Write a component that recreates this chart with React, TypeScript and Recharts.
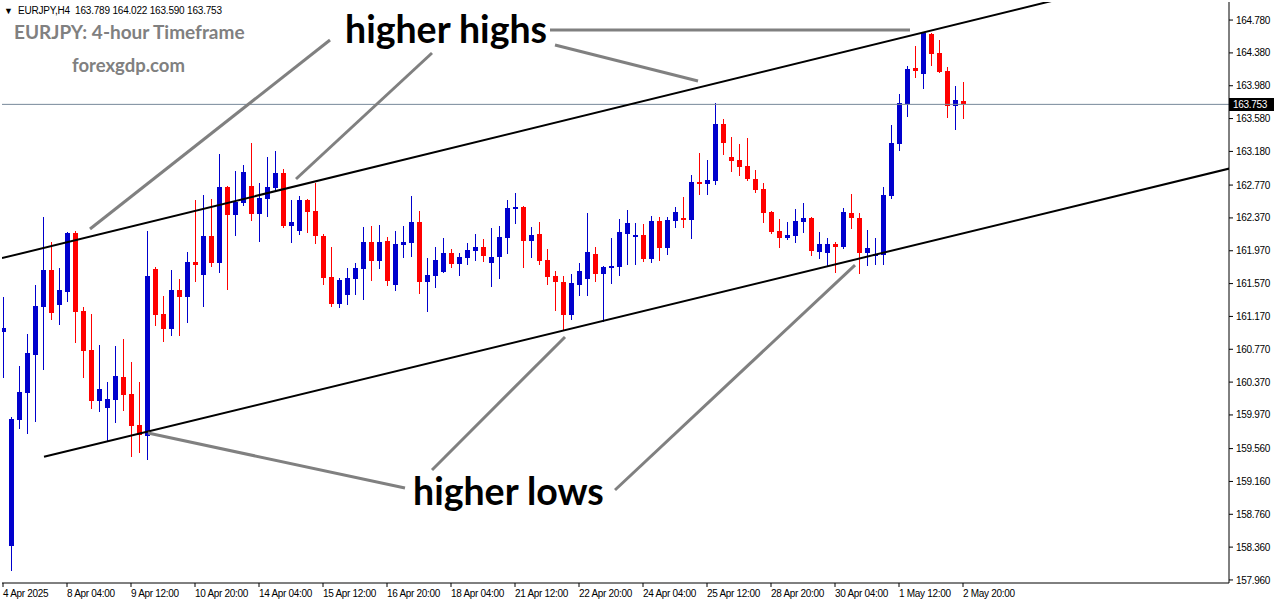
import { ComposedChart, Bar, XAxis, YAxis, ReferenceLine } from 'recharts'

// EURJPY H4 candles, 4 Apr 2025 -> 2 May 2025 20:00 (one entry per 4h bar)
const OPENS = [
  160.98, 158.37, 159.91, 160.24, 160.70, 161.28, 161.74, 161.31, 161.47, 162.19,
  161.24, 160.76, 160.14, 160.05, 160.15, 160.43, 160.23, 159.85, 159.71, 161.75,
  161.20, 161.02, 161.49, 161.41, 161.83, 161.67, 162.15, 161.82, 162.75, 162.41,
  162.55, 162.76, 162.42, 162.60, 162.73, 162.92, 162.27, 162.21, 162.59, 162.45,
  162.15, 161.65, 161.32, 161.43, 161.63, 161.75, 162.08, 161.85, 162.09, 161.55,
  162.04, 162.06, 162.32, 161.59, 161.66, 161.71, 161.94, 161.81, 161.88, 161.97,
  162.02, 161.82, 161.89, 162.13, 162.48, 162.50, 162.09, 162.17, 161.86, 161.66,
  161.59, 161.19, 161.55, 161.63, 161.93, 161.69, 161.76, 161.77, 162.17, 162.14,
  162.16, 161.87, 162.33, 162.00, 162.33, 162.37, 162.34, 162.81, 162.78, 162.82,
  163.51, 163.11, 163.08, 163.00, 162.84, 162.72, 162.44, 162.21, 162.13, 162.15,
  162.32, 162.37, 161.95, 161.94, 162.05, 162.02, 162.43, 162.37, 161.94, 161.91,
  161.92, 162.64, 163.27, 163.76, 164.20, 164.12, 164.61, 164.38, 164.16, 163.73,
  163.789,
]
const HIGHS = [
  161.41, 159.95, 160.57, 160.96, 161.55, 162.38, 162.08, 161.76, 162.20, 162.21,
  161.28, 161.20, 160.82, 160.37, 160.81, 160.90, 160.61, 160.37, 162.21, 161.77,
  161.42, 161.74, 161.63, 161.95, 162.59, 162.65, 162.60, 163.15, 162.76, 162.94,
  163.01, 163.28, 162.80, 163.11, 163.18, 162.97, 162.59, 162.64, 162.60, 162.80,
  162.17, 162.02, 161.64, 161.76, 161.82, 162.26, 162.27, 162.28, 162.14, 162.21,
  162.27, 162.64, 162.45, 161.88, 162.02, 162.13, 161.99, 161.94, 162.06, 162.17,
  162.11, 162.25, 162.27, 162.59, 162.67, 162.51, 162.26, 162.32, 161.99, 161.72,
  161.66, 161.69, 161.82, 162.43, 162.02, 161.78, 162.13, 162.36, 162.47, 162.31,
  162.30, 162.39, 162.38, 162.38, 162.50, 162.62, 162.89, 163.16, 163.08, 163.77,
  163.57, 163.36, 163.27, 163.34, 162.95, 162.80, 162.45, 162.36, 162.32, 162.48,
  162.55, 162.38, 162.20, 162.13, 162.08, 162.49, 162.66, 162.43, 162.22, 162.13,
  162.75, 163.50, 163.88, 164.22, 164.46, 164.63, 164.62, 164.54, 164.21, 163.98,
  164.022,
]
const LOWS = [
  160.43, 158.08, 159.81, 159.75, 159.90, 160.53, 161.14, 161.08, 161.36, 160.86,
  160.43, 160.05, 160.02, 159.65, 159.88, 160.03, 159.47, 159.52, 159.43, 161.07,
  160.87, 160.94, 160.94, 161.10, 161.60, 161.30, 161.78, 161.71, 161.50, 162.16,
  162.53, 162.34, 162.09, 162.39, 162.71, 162.26, 162.08, 162.17, 162.20, 162.06,
  161.56, 161.30, 161.28, 161.32, 161.44, 161.38, 161.61, 161.76, 161.55, 161.49,
  161.89, 161.91, 161.46, 161.24, 161.53, 161.71, 161.77, 161.67, 161.81, 161.86,
  161.85, 161.54, 161.64, 161.94, 162.31, 161.77, 161.89, 161.81, 161.56, 161.25,
  161.00, 161.14, 161.43, 161.43, 161.60, 161.11, 161.58, 161.67, 161.81, 161.81,
  161.85, 161.83, 161.86, 161.93, 162.26, 162.26, 162.13, 162.66, 162.66, 162.78,
  163.15, 162.94, 162.89, 162.83, 162.69, 162.32, 162.19, 162.02, 162.11, 162.08,
  162.20, 161.92, 161.88, 161.80, 161.71, 162.00, 162.25, 161.70, 161.80, 161.81,
  161.81, 162.61, 163.20, 163.61, 164.09, 163.95, 164.23, 164.15, 163.60, 163.45,
  163.590,
]
const CLOSES = [
  161.03, 159.92, 160.25, 160.72, 161.30, 161.74, 161.21, 161.49, 162.19, 161.22,
  160.75, 160.14, 160.29, 160.16, 160.44, 160.21, 159.84, 159.73, 161.66, 161.19,
  161.02, 161.49, 161.41, 161.83, 161.80, 162.15, 161.82, 162.75, 162.41, 162.56,
  162.93, 162.42, 162.61, 162.75, 162.92, 162.27, 162.32, 162.59, 162.44, 162.15,
  161.64, 161.32, 161.61, 161.64, 161.76, 162.08, 161.85, 162.08, 161.60, 162.05,
  162.08, 162.32, 161.59, 161.67, 161.86, 161.94, 161.81, 161.89, 161.98, 162.02,
  161.91, 161.89, 162.14, 162.49, 162.50, 162.09, 162.16, 161.85, 161.65, 161.59,
  161.19, 161.58, 161.72, 161.95, 161.69, 161.77, 161.78, 162.20, 162.31, 162.16,
  161.87, 162.33, 162.00, 162.34, 162.44, 162.34, 162.81, 162.78, 162.83, 163.51,
  163.28, 163.06, 162.99, 162.84, 162.71, 162.43, 162.20, 162.13, 162.16, 162.33,
  162.37, 161.97, 162.05, 162.05, 162.02, 162.44, 162.37, 161.94, 162.00, 161.93,
  162.65, 163.28, 163.77, 164.18, 164.16, 164.62, 164.37, 164.15, 163.73, 163.81,
  163.753,
]

const TIME_TICKS = [0, 8, 16, 24, 32, 40, 48, 56, 64, 72, 80, 88, 96, 104, 112, 120]
const TIME_LABELS = [
  '4 Apr 2025', '8 Apr 04:00', '9 Apr 12:00', '10 Apr 20:00', '14 Apr 04:00', '15 Apr 12:00',
  '16 Apr 20:00', '18 Apr 04:00', '21 Apr 12:00', '22 Apr 20:00', '24 Apr 04:00', '25 Apr 12:00',
  '28 Apr 20:00', '30 Apr 04:00', '1 May 12:00', '2 May 20:00',
]
const PRICE_TICKS = [
  164.78, 164.38, 163.98, 163.58, 163.18, 162.77, 162.37, 161.97, 161.57,
  161.17, 160.77, 160.37, 159.97, 159.56, 159.16, 158.76, 158.36, 157.96,
]

// channel trendlines (bar index, price)
const UPPER_CHANNEL = [{ x: -0.125, y: 161.88 }, { x: 135, y: 165.106 }]
const LOWER_CHANNEL = [{ x: 5.125, y: 159.46 }, { x: 155, y: 163.012 }]

// grey pointer lines from the labels to the swing points
const HIGH_POINTERS = [
  [{ x: 10.875, y: 162.235 }, { x: 40.875, y: 164.537 }],
  [{ x: 36.625, y: 162.844 }, { x: 53.625, y: 164.379 }],
  [{ x: 68.375, y: 164.659 }, { x: 113.375, y: 164.659 }],
  [{ x: 69, y: 164.476 }, { x: 86.875, y: 164.037 }],
]
const LOW_POINTERS = [
  [{ x: 18.125, y: 159.75 }, { x: 50.25, y: 159.08 }],
  [{ x: 53.625, y: 159.3 }, { x: 70.25, y: 160.92 }],
  [{ x: 76.5, y: 159.056 }, { x: 106.5, y: 161.796 }],
]

const BLUE = '#0000cd'
const RED = '#ff0000'
const AXIS_FONT = '"Liberation Sans", Arial, sans-serif'

const rows = OPENS.map((o, i) => ({ i, o, h: HIGHS[i], l: LOWS[i], c: CLOSES[i] }))
const last = rows[rows.length - 1]

function Candle(props: any) {
  const { x, y, width, height, payload } = props
  if (x == null || y == null || !payload) return null
  const top = Math.min(y, y + height)
  const bottom = Math.max(y, y + height)
  const span = payload.h - payload.l
  const yOf = (v: number) => (span === 0 ? top : top + ((payload.h - v) / span) * (bottom - top))
  const cx = Math.round(x + width / 2)
  const color = payload.c >= payload.o ? BLUE : RED
  const bTop = Math.round(yOf(Math.max(payload.o, payload.c)))
  const bBot = Math.round(yOf(Math.min(payload.o, payload.c)))
  return (
    <g shapeRendering="crispEdges">
      <line x1={cx + 0.5} x2={cx + 0.5} y1={Math.round(top)} y2={Math.round(bottom) + 1} stroke={color} strokeWidth={1} />
      <rect x={cx - 2} y={bTop} width={5} height={Math.max(1, bBot - bTop)} fill={color} />
    </g>
  )
}

function TimeTick(props: any) {
  const { x, y, payload } = props
  const idx = TIME_TICKS.indexOf(payload.value)
  return (
    <text x={x} y={y + 8} textAnchor="start" fontSize={10} fontFamily={AXIS_FONT} letterSpacing={-0.3} fill="#000">
      {TIME_LABELS[idx]}
    </text>
  )
}

function PriceTag(props: any) {
  const vb = props.viewBox
  if (!vb) return null
  const right = vb.x + vb.width
  const yy = Math.round(vb.y)
  return (
    <g>
      <rect x={right} y={yy - 6} width={45} height={13} fill="#000" />
      <text x={right + 4} y={yy + 4} fill="#fff" fontSize={10} fontFamily={AXIS_FONT} letterSpacing={-0.3}>
        {last.c.toFixed(3)}
      </text>
    </g>
  )
}

export default function App() {
  return (
    <div style={{ position: 'absolute', left: 0, top: 0, width: 1276, height: 604, background: '#fff' }}>
      <ComposedChart width={1276} height={604} data={rows} margin={{ top: 2, right: 0, bottom: 0, left: 2 }}>
        <XAxis
          dataKey="i"
          type="number"
          domain={[-0.125, 153.25]}
          allowDataOverflow
          ticks={TIME_TICKS}
          interval={0}
          tick={<TimeTick />}
          tickSize={4}
          height={21}
          axisLine={{ stroke: '#000' }}
          tickLine={{ stroke: '#000' }}
        />
        <YAxis
          orientation="right"
          type="number"
          domain={[157.923, 165.0]}
          allowDataOverflow
          ticks={PRICE_TICKS}
          tickFormatter={(v: number) => v.toFixed(3)}
          tick={{ fontSize: 10, fontFamily: AXIS_FONT, fill: '#000', letterSpacing: -0.3 }}
          tickSize={4}
          tickMargin={3}
          width={47}
          axisLine={{ stroke: '#000' }}
          tickLine={{ stroke: '#000' }}
          interval={0}
        />
        <YAxis yAxisId="frame" orientation="left" width={0} tick={false} tickLine={false} axisLine={{ stroke: '#000' }} />

        <ReferenceLine y={last.c} stroke="#778899" strokeWidth={1} label={<PriceTag />} />

        <Bar
          dataKey={(d: any) => [d.l, d.h]}
          barSize={5}
          shape={<Candle />}
          isAnimationActive={false}
        />

        <ReferenceLine segment={UPPER_CHANNEL} stroke="#000" strokeWidth={2} ifOverflow="hidden" />
        <ReferenceLine segment={LOWER_CHANNEL} stroke="#000" strokeWidth={2} ifOverflow="hidden" />
        {HIGH_POINTERS.concat(LOW_POINTERS).map((seg, k) => (
          <ReferenceLine key={k} segment={seg} stroke="#808080" strokeWidth={3} ifOverflow="visible" />
        ))}
      </ComposedChart>

      <svg width={1276} height={604} style={{ position: 'absolute', left: 0, top: 0, pointerEvents: 'none' }}>
        <rect x={0} y={0} width={4} height={26} fill="#fff" />
        <text x={4} y={14} fontSize={9} fontFamily={AXIS_FONT} fill="#000">▼</text>
        <text x={18} y={14} fontSize={10} fontFamily={AXIS_FONT} fill="#000" letterSpacing={-0.2} xmlSpace="preserve">
          {`EURJPY,H4  ${last.o.toFixed(3)} ${last.h.toFixed(3)} ${last.l.toFixed(3)} ${last.c.toFixed(3)}`}
        </text>
        <text x={14} y={39} fontSize={19} fontWeight="bold" fontFamily="Lato, sans-serif" fill="#808080">
          EURJPY: 4-hour Timeframe
        </text>
        <text x={72} y={72} fontSize={18.5} fontWeight="bold" fontFamily="Lato, sans-serif" fill="#808080">
          forexgdp.com
        </text>
        <text x={345} y={43} fontSize={37.5} fontWeight="bold" fontFamily="Lato, sans-serif" fill="#000">
          higher highs
        </text>
        <text x={413} y={505} fontSize={37.5} fontWeight="bold" fontFamily="Lato, sans-serif" fill="#000">
          higher lows
        </text>
      </svg>
    </div>
  )
}
